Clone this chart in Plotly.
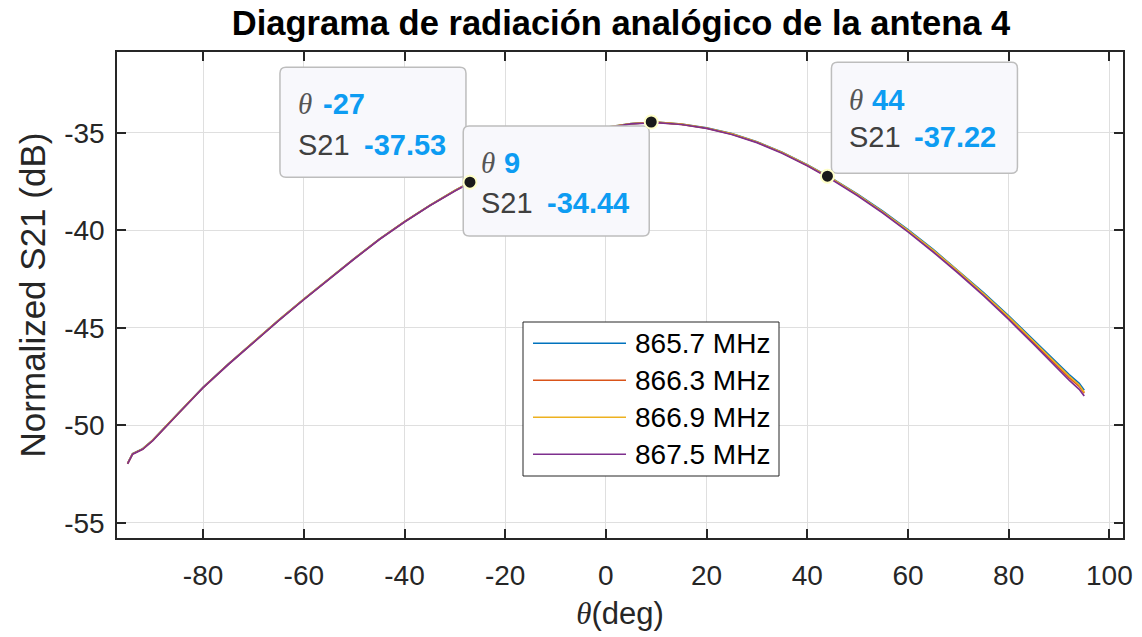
import plotly.graph_objects as go

# ---------------- data ----------------
theta = [-95, -94, -92, -90, -85, -80, -75, -70, -65, -60, -55, -50, -45, -40, -35, -30,
         -25, -20, -15, -10, -5, 0, 5, 10, 15, 20, 25, 30, 35, 40, 45, 50, 55, 60, 65,
         70, 75, 80, 85, 90, 92, 94, 95]

s21_8657 = [-51.95, -51.45, -51.20, -50.76, -49.40, -48.05, -46.86, -45.72, -44.61, -43.53,
            -42.48, -41.45, -40.45, -39.55, -38.72, -37.96, -37.26, -36.62, -36.04, -35.52,
            -35.07, -34.72, -34.52, -34.45, -34.55, -34.74, -35.04, -35.46, -35.99, -36.63,
            -37.35, -38.14, -39.02, -39.96, -40.98, -42.06, -43.19, -44.38, -45.64, -46.92,
            -47.40, -47.85, -48.20]
s21_8663 = [-51.97, -51.47, -51.22, -50.77, -49.41, -48.06, -46.87, -45.73, -44.62, -43.54,
            -42.49, -41.46, -40.46, -39.56, -38.73, -37.97, -37.27, -36.63, -36.05, -35.53,
            -35.08, -34.73, -34.53, -34.46, -34.56, -34.76, -35.06, -35.48, -36.02, -36.67,
            -37.39, -38.19, -39.07, -40.03, -41.05, -42.14, -43.28, -44.49, -45.75, -47.05,
            -47.55, -48.00, -48.35]
s21_8669 = [-51.96, -51.46, -51.21, -50.76, -49.40, -48.05, -46.86, -45.72, -44.61, -43.53,
            -42.48, -41.45, -40.45, -39.55, -38.72, -37.96, -37.26, -36.62, -36.04, -35.52,
            -35.07, -34.72, -34.52, -34.45, -34.55, -34.75, -35.05, -35.47, -36.01, -36.65,
            -37.37, -38.17, -39.05, -40.00, -41.02, -42.10, -43.24, -44.44, -45.70, -47.00,
            -47.48, -47.93, -48.30]
s21_8675 = [-51.98, -51.48, -51.23, -50.78, -49.42, -48.07, -46.88, -45.74, -44.63, -43.55,
            -42.50, -41.47, -40.47, -39.57, -38.74, -37.98, -37.28, -36.64, -36.06, -35.54,
            -35.09, -34.74, -34.54, -34.47, -34.57, -34.77, -35.08, -35.50, -36.04, -36.69,
            -37.42, -38.22, -39.11, -40.08, -41.11, -42.20, -43.35, -44.57, -45.85, -47.17,
            -47.68, -48.15, -48.50]

series_names = ["865.7 MHz", "866.3 MHz", "866.9 MHz", "867.5 MHz"]
series_values = [s21_8657, s21_8663, s21_8669, s21_8675]
series_colors = ["#0072BD", "#D95319", "#EDB120", "#7E2F8E"]

tip_theta = [-27, 9, 44]
tip_s21 = [-37.53, -34.44, -37.22]
tip_theta_labels = ["-27", "9", "44"]
tip_s21_labels = ["-37.53", "-34.44", "-37.22"]

x_tickvals = [-80, -60, -40, -20, 0, 20, 40, 60, 80, 100]
x_ticktext = ["-80", "-60", "-40", "-20", "0", "20", "40", "60", "80", "100"]
y_tickvals = [-55, -50, -45, -40, -35]
y_ticktext = ["-55", "-50", "-45", "-40", "-35"]

# ---------------- layout constants ----------------
W, H = 1142, 637
L, R, T, B = 117, 19, 52, 99
PW, PH = W - L - R, H - T - B
AX = "#262626"
FONT = "Liberation Sans, Arial, Helvetica, sans-serif"
SERIF = "Liberation Serif, Times New Roman, serif"
TIPBLUE = "#0d9cf2"


def px_to_paper_x(px):
    return (px - L) / PW


def px_to_paper_y(py):
    return (H - B - py) / PH


fig = go.Figure()

for name, vals, col in zip(series_names, series_values, series_colors):
    fig.add_trace(go.Scatter(x=theta, y=vals, mode="lines", name=name,
                             line=dict(color=col, width=1.7), showlegend=False))

# data tip markers (trace; redrawn on top of tip boxes as shapes below)
fig.add_trace(go.Scatter(x=tip_theta, y=tip_s21, mode="markers", showlegend=False,
                         marker=dict(color="#1a1a1a", size=12,
                                     line=dict(color="#FFFFC8", width=2))))

shapes = []
annotations = []


def rounded_rect(x0, x1, y0, y1, r=6):
    # y positive up (pixel sizemode)
    return (f"M{x0 + r},{y1} L{x1 - r},{y1} Q{x1},{y1} {x1},{y1 - r} "
            f"L{x1},{y0 + r} Q{x1},{y0} {x1 - r},{y0} L{x0 + r},{y0} "
            f"Q{x0},{y0} {x0},{y0 + r} L{x0},{y1 - r} Q{x0},{y1} {x0 + r},{y1} Z")


tip_layout = [
    dict(box=(-190, -4, 5, 115), lx=-174, v1=-149, v2=-108, y1=78, y2=37),
    dict(box=(-188, -2, -114, -4), lx=-172, v1=-149, v2=-106, y1=-41, y2=-81),
    dict(box=(4, 190, 3, 114), lx=20, v1=43, v2=85, y1=76, y2=39),
]

TIPSIZE = 29
for tx, ty, tl, sl, lay in zip(tip_theta, tip_s21, tip_theta_labels, tip_s21_labels, tip_layout):
    x0, x1, y0, y1 = lay["box"]
    shapes.append(dict(type="path", xref="x", yref="y", xsizemode="pixel", ysizemode="pixel",
                       xanchor=tx, yanchor=ty, path=rounded_rect(x0, x1, y0, y1),
                       fillcolor="#F8F8FC", line=dict(color="#BDBDBD", width=1.5), layer="above"))
    common = dict(x=tx, y=ty, xref="x", yref="y", showarrow=False, xanchor="left",
                  yanchor="middle")
    annotations.append(dict(text="<i>θ</i>", font=dict(family=SERIF, size=TIPSIZE, color="#555555"),
                            xshift=lay["lx"], yshift=lay["y1"], **common))
    annotations.append(dict(text=f"<b>{tl}</b>", font=dict(family=FONT, size=TIPSIZE, color=TIPBLUE),
                            xshift=lay["v1"], yshift=lay["y1"], **common))
    annotations.append(dict(text="S21", font=dict(family=FONT, size=TIPSIZE, color="#404040"),
                            xshift=lay["lx"], yshift=lay["y2"], **common))
    annotations.append(dict(text=f"<b>{sl}</b>", font=dict(family=FONT, size=TIPSIZE, color=TIPBLUE),
                            xshift=lay["v2"], yshift=lay["y2"], **common))

# markers on top of the tip boxes
for tx, ty in zip(tip_theta, tip_s21):
    shapes.append(dict(type="circle", xref="x", yref="y", xsizemode="pixel", ysizemode="pixel",
                       xanchor=tx, yanchor=ty, x0=-6.5, x1=6.5, y0=-6.5, y1=6.5,
                       fillcolor="#1a1a1a", line=dict(color="#FFFFC8", width=2), layer="above"))

# custom legend (MATLAB style long line samples)
leg_x0, leg_x1, leg_y0, leg_y1 = 523, 779, 322, 476
shapes.append(dict(type="rect", xref="paper", yref="paper",
                   x0=px_to_paper_x(leg_x0), x1=px_to_paper_x(leg_x1),
                   y0=px_to_paper_y(leg_y1), y1=px_to_paper_y(leg_y0),
                   fillcolor="white", line=dict(color=AX, width=1), layer="above"))
row_y = [343.3, 380.3, 417.3, 454.3]
for name, col, ry in zip(series_names, series_colors, row_y):
    shapes.append(dict(type="line", xref="paper", yref="paper",
                       x0=px_to_paper_x(533), x1=px_to_paper_x(626),
                       y0=px_to_paper_y(ry), y1=px_to_paper_y(ry),
                       line=dict(color=col, width=1.5), layer="above"))
    annotations.append(dict(text=name, xref="paper", yref="paper", x=px_to_paper_x(633),
                            y=px_to_paper_y(ry), xanchor="left", yanchor="middle",
                            showarrow=False, font=dict(family=FONT, size=28, color="#000000")))

fig.update_layout(
    width=W, height=H,
    margin=dict(l=L, r=R, t=T, b=B, autoexpand=False),
    paper_bgcolor="white", plot_bgcolor="white",
    font=dict(family=FONT, color=AX),
    title=dict(text="<b>Diagrama de radiación analógico de la antena 4</b>",
               x=px_to_paper_x(621), xref="paper", xanchor="center",
               y=1 - 23 / H, yref="container", yanchor="middle",
               font=dict(family=FONT, size=34.5, color="#000000")),
    shapes=shapes, annotations=annotations,
    xaxis=dict(range=[-97.1, 102.7], tickvals=x_tickvals, ticktext=x_ticktext,
               showgrid=True, gridcolor="#DFDFDF", gridwidth=1, zeroline=False,
               showline=True, linecolor=AX, linewidth=1.5, mirror="ticks",
               ticks="inside", ticklen=9, tickwidth=1.5, tickcolor=AX,
               tickfont=dict(family=FONT, size=28, color=AX), ticklabelstandoff=12,
               title=dict(text="<i style='font-family:Liberation Serif'>θ</i>(deg)",
                          font=dict(family=FONT, size=31, color=AX), standoff=12)),
    yaxis=dict(range=[-55.78, -30.85], tickvals=y_tickvals, ticktext=y_ticktext,
               showgrid=True, gridcolor="#DFDFDF", gridwidth=1, zeroline=False,
               showline=True, linecolor=AX, linewidth=1.5, mirror="ticks",
               ticks="inside", ticklen=9, tickwidth=1.5, tickcolor=AX,
               tickfont=dict(family=FONT, size=28, color=AX), ticklabelstandoff=5,
               title=dict(text="Normalized S21 (dB)",
                          font=dict(family=FONT, size=35, color=AX), standoff=8)),
)

fig.write_html("out.html")
